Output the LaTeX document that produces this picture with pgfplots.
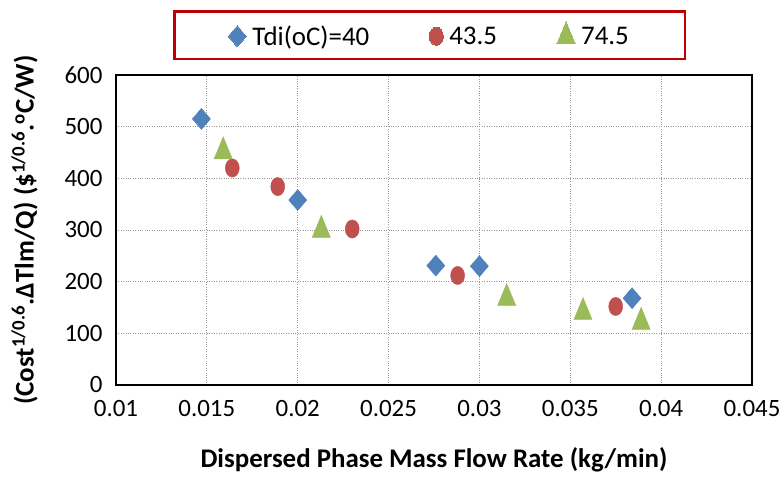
\documentclass[border=0pt]{standalone}
\usepackage{fontspec}
\setmainfont{Carlito}
\usepackage{pgfplots}
\pgfplotsset{compat=1.18}
\usetikzlibrary{calc}
\definecolor{xlblue}{HTML}{4F81BD}
\definecolor{xlred}{HTML}{C0504D}
\definecolor{xlgreen}{HTML}{9BBB59}
\definecolor{xlframe}{HTML}{C00000}

\begin{document}
\begin{tikzpicture}
\begin{axis}[
  scale only axis,
  width=636bp, height=310bp,
  xmin=0.01, xmax=0.045, ymin=0, ymax=600,
  scaled x ticks=false,
  xtick={0.01,0.015,0.02,0.025,0.03,0.035,0.04,0.045},
  xticklabels={0.01,0.015,0.02,0.025,0.03,0.035,0.04,0.045},
  ytick={0,100,200,300,400,500,600},
  /pgf/number format/assume math mode=true,
  tick style={draw=none},
  tick label style={font=\fontsize{25}{30}\selectfont},
  xticklabel style={yshift=-12bp},
  yticklabel style={xshift=-10bp},
  grid=major,
  grid style={gray!80, dotted, line width=0.8pt},
  axis line style={black, line width=2.6bp},
  xlabel={\textbf{Dispersed Phase Mass Flow Rate (kg/min)}},
  ylabel={\textbf{(Cost\textsuperscript{1/0.6}.ΔTlm/Q) (\$\textsuperscript{1/0.6}.\textsuperscript{o}C/W)}},
  label style={font=\fontsize{27}{31}\selectfont},
  xlabel style={yshift=-24bp},
  ylabel style={yshift=20bp},
  legend columns=3,
  legend image post style={line width=0pt},
  legend style={
    at={(0.493,1.048)}, anchor=south,
    draw=xlframe, line width=2.6bp,
    font=\fontsize{27}{32}\selectfont,
    inner xsep=54bp, inner ysep=10bp,
    /tikz/every odd column/.append style={column sep=4bp},
    /tikz/every even column/.append style={column sep=58bp},
  },
  legend cell align=left,
]
\addplot[only marks, mark=diamond*, mark size=10.5bp, color=xlblue,
  mark options={xscale=1.15, draw=none, fill=xlblue}] coordinates {
  (0.0147,515) (0.0200,358) (0.0276,231) (0.0300,230) (0.0384,168)};
\addlegendentry{Tdi(oC)=40}
\addplot[only marks, mark=*, mark size=7bp, color=xlred,
  mark options={yscale=1.3, draw=none, fill=xlred}] coordinates {
  (0.0164,420) (0.0189,384) (0.0230,302) (0.0288,212) (0.0375,152)};
\addlegendentry{43.5}
\addplot[only marks, mark=triangle*, mark size=10.5bp, color=xlgreen,
  mark options={yscale=1.4, draw=none, fill=xlgreen}] coordinates {
  (0.0159,452) (0.0213,300) (0.0315,168) (0.0357,141) (0.0389,122)};
\addlegendentry{74.5}
\coordinate (bl) at (rel axis cs:0,0);
\coordinate (tr) at (rel axis cs:1,1);
\end{axis}
\pgfresetboundingbox
\path[use as bounding box] ($(bl)+(-116bp,-92bp)$) rectangle ($(tr)+(27bp,75bp)$);
\end{tikzpicture}
\end{document}
